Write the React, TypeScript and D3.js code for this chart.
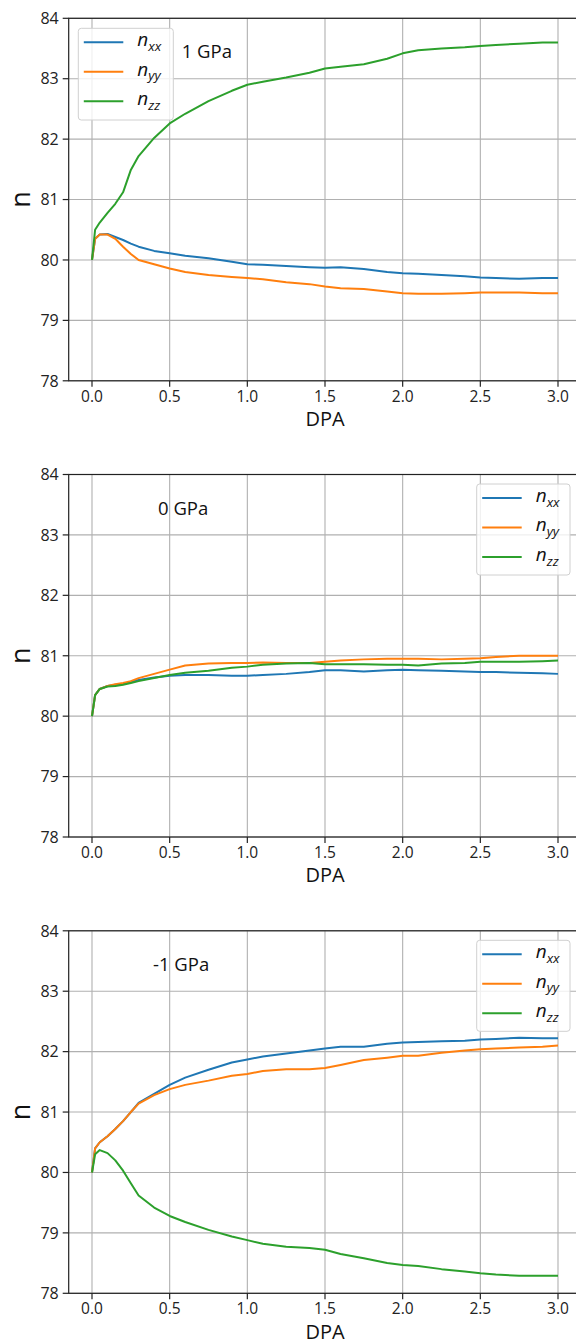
import React from "react";
import * as d3 from "d3";

const DPA = [0, 0.02, 0.05, 0.1, 0.15, 0.2, 0.25, 0.3, 0.4, 0.5, 0.6, 0.75, 0.9, 1.0, 1.1, 1.25, 1.4, 1.5, 1.6, 1.75, 1.9, 2.0, 2.1, 2.25, 2.4, 2.5, 2.6, 2.75, 2.9, 3.0];

const P1_XX = [80, 80.35, 80.42, 80.43, 80.38, 80.33, 80.27, 80.22, 80.15, 80.11, 80.07, 80.03, 79.97, 79.93, 79.92, 79.9, 79.88, 79.87, 79.88, 79.85, 79.8, 79.78, 79.77, 79.75, 79.73, 79.71, 79.7, 79.69, 79.7, 79.7];
const P1_YY = [80, 80.35, 80.42, 80.42, 80.35, 80.22, 80.1, 80.0, 79.93, 79.86, 79.8, 79.75, 79.72, 79.7, 79.68, 79.63, 79.6, 79.56, 79.53, 79.52, 79.48, 79.45, 79.44, 79.44, 79.45, 79.46, 79.46, 79.46, 79.45, 79.45];
const P1_ZZ = [80, 80.5, 80.62, 80.78, 80.93, 81.12, 81.49, 81.72, 82.02, 82.26, 82.42, 82.63, 82.8, 82.9, 82.95, 83.02, 83.1, 83.17, 83.2, 83.24, 83.33, 83.42, 83.47, 83.5, 83.52, 83.54, 83.56, 83.58, 83.6, 83.6];

const P2_XX = [80, 80.35, 80.45, 80.5, 80.52, 80.53, 80.57, 80.6, 80.64, 80.67, 80.68, 80.68, 80.67, 80.67, 80.68, 80.7, 80.73, 80.76, 80.76, 80.74, 80.76, 80.77, 80.76, 80.75, 80.74, 80.73, 80.73, 80.72, 80.71, 80.7];
const P2_YY = [80, 80.35, 80.45, 80.5, 80.53, 80.55, 80.58, 80.63, 80.7, 80.77, 80.84, 80.87, 80.88, 80.88, 80.89, 80.88, 80.88, 80.9, 80.92, 80.94, 80.95, 80.95, 80.95, 80.94, 80.95, 80.96, 80.98, 81.0, 81.0, 81.0];
const P2_ZZ = [80, 80.35, 80.45, 80.49, 80.5, 80.52, 80.55, 80.58, 80.63, 80.68, 80.72, 80.75, 80.8, 80.82, 80.85, 80.87, 80.88, 80.86, 80.86, 80.86, 80.85, 80.85, 80.84, 80.87, 80.88, 80.9, 80.9, 80.9, 80.91, 80.92];

const P3_XX = [80, 80.4, 80.5, 80.6, 80.72, 80.85, 81.0, 81.15, 81.3, 81.45, 81.57, 81.7, 81.82, 81.87, 81.92, 81.97, 82.02, 82.05, 82.08, 82.08, 82.13, 82.15, 82.16, 82.17, 82.18, 82.2, 82.21, 82.23, 82.22, 82.22];
const P3_YY = [80, 80.4, 80.5, 80.6, 80.72, 80.85, 81.0, 81.14, 81.28, 81.38, 81.45, 81.52, 81.6, 81.63, 81.68, 81.71, 81.71, 81.73, 81.78, 81.86, 81.9, 81.93, 81.93, 81.98, 82.02, 82.04, 82.05, 82.07, 82.08, 82.1];
const P3_ZZ = [80, 80.3, 80.37, 80.32, 80.2, 80.03, 79.82, 79.62, 79.42, 79.28, 79.18, 79.05, 78.94, 78.88, 78.82, 78.77, 78.75, 78.72, 78.65, 78.58, 78.5, 78.47, 78.45, 78.4, 78.36, 78.33, 78.31, 78.29, 78.29, 78.29];

const X_TICKS = [0, 0.5, 1.0, 1.5, 2.0, 2.5, 3.0];
const Y_TICKS = [78, 79, 80, 81, 82, 83, 84];
const SERIES_NAMES = ["xx", "yy", "zz"];
const COLORS = ["#1f77b4", "#ff7f0e", "#2ca02c"];
const PANEL_LABELS = ["1 GPa", "0 GPa", "-1 GPa"];
const PANELS = [
  [P1_XX, P1_YY, P1_ZZ],
  [P2_XX, P2_YY, P2_ZZ],
  [P3_XX, P3_YY, P3_ZZ],
];

const FONT = "'Open Sans', 'Liberation Sans', sans-serif";
const W = 576;
const H = 1340;
const PANEL_TOPS = [18.3, 474.5, 930.8];
const PLOT_H = 362.5;
const X_LEFT = 68.7;
const X_RIGHT = 581.3;

const x = d3.scaleLinear().domain([-0.15, 3.15]).range([X_LEFT, X_RIGHT]);

function Panel({ idx }: { idx: number }) {
  const top = PANEL_TOPS[idx];
  const y = d3.scaleLinear().domain([78, 84]).range([top + PLOT_H, top]);
  const line = d3
    .line<number>()
    .x((_, i) => x(DPA[i]))
    .y((v) => y(v));
  const series = PANELS[idx];
  const legendLeft = idx === 0;
  const lg = legendLeft
    ? { x: 78.3, y: top + 10, w: 95, h: 91.7 }
    : { x: 476.7, y: top + 9.5, w: 93.3, h: 91 };
  const labelX = [181.7, 158, 153][idx];
  const bottom = top + PLOT_H;
  return (
    <g>
      {X_TICKS.map((t) => (
        <line key={"gx" + t} x1={x(t)} x2={x(t)} y1={top} y2={bottom} stroke="#b0b0b0" strokeWidth={1.1} />
      ))}
      {Y_TICKS.map((t) => (
        <line key={"gy" + t} x1={X_LEFT} x2={X_RIGHT} y1={y(t)} y2={y(t)} stroke="#b0b0b0" strokeWidth={1.1} />
      ))}
      {series.map((s, i) => (
        <path key={"s" + i} d={line(s) || ""} fill="none" stroke={COLORS[i]} strokeWidth={2} strokeLinejoin="round" />
      ))}
      <rect x={X_LEFT} y={top} width={X_RIGHT - X_LEFT} height={PLOT_H} fill="none" stroke="#222" strokeWidth={1.2} />
      {Y_TICKS.map((t) => (
        <g key={"yt" + t}>
          <line x1={X_LEFT - 6} x2={X_LEFT} y1={y(t)} y2={y(t)} stroke="#222" strokeWidth={1.2} />
          <text x={X_LEFT - 10} y={y(t)} dy="0.36em" textAnchor="end" fontSize={16} fontFamily={FONT} fill="#222">
            {t}
          </text>
        </g>
      ))}
      {X_TICKS.map((t) => (
        <g key={"xt" + t}>
          <line x1={x(t)} x2={x(t)} y1={bottom} y2={bottom + 6} stroke="#222" strokeWidth={1.2} />
          <text x={x(t)} y={bottom + 15.5} dy="0.36em" textAnchor="middle" fontSize={15.5} fontFamily={FONT} fill="#222">
            {t.toFixed(1)}
          </text>
        </g>
      ))}
      <text x={(X_LEFT + X_RIGHT) / 2} y={bottom + 38} dy="0.36em" textAnchor="middle" fontSize={20} fontFamily={FONT} fill="#111">
        DPA
      </text>
      <text
        transform={`translate(${30},${top + PLOT_H / 2}) rotate(-90)`}
        textAnchor="middle"
        fontSize={27}
        fontFamily={FONT}
        fill="#111"
      >
        n
      </text>
      <text x={labelX} y={top + 33.4} dy="0.36em" fontSize={18.5} fontFamily={FONT} fill="#111">
        {PANEL_LABELS[idx]}
      </text>
      <rect x={lg.x} y={lg.y} width={lg.w} height={lg.h} rx={3} fill="white" fillOpacity={0.8} stroke="#d0d0d0" strokeWidth={1} />
      {SERIES_NAMES.map((name, i) => {
        const ry = lg.y + 14 + i * 29.5;
        return (
          <g key={"lg" + name}>
            <line x1={lg.x + 5.5} x2={lg.x + 45} y1={ry} y2={ry} stroke={COLORS[i]} strokeWidth={2} />
            <text x={lg.x + 59} y={ry} dy="0.2em" fontFamily={FONT} fontStyle="italic" fill="#111" fontSize={19}>
              n
              <tspan fontSize={13.5} dy="0.35em">{name}</tspan>
            </text>
          </g>
        );
      })}
    </g>
  );
}

export default function App() {
  return (
    <svg width={W} height={H} style={{ position: "absolute", left: 0, top: 0, background: "white" }}>
      <rect x={0} y={0} width={W} height={H} fill="white" />
      {[0, 1, 2].map((i) => (
        <Panel key={i} idx={i} />
      ))}
    </svg>
  );
}
